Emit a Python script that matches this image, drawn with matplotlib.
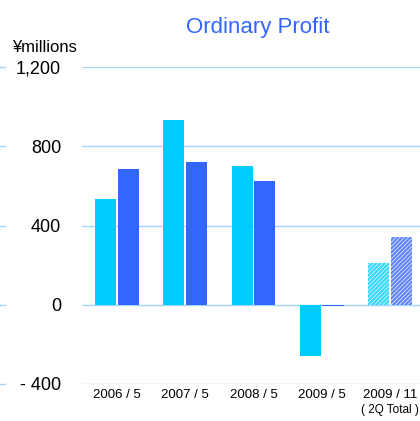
import matplotlib.pyplot as plt
from matplotlib.lines import Line2D

plt.rcParams['font.family'] = ['Liberation Sans', 'DejaVu Sans']
plt.rcParams['hatch.linewidth'] = 0.6

# data (¥ millions)
periods = ['2006 / 5', '2007 / 5', '2008 / 5', '2009 / 5', '2009 / 11']
sub_labels = ['', '', '', '', '( 2Q Total )']
series_a = [534, 933, 701, -257, 212]
series_b = [686, 721, 625, -5, 343]
forecast = [False, False, False, False, True]
yticks = [-400, 0, 400, 800, 1200]
ytick_labels = ['- 400', '0', '400', '800', '1,200']

cyan = '#00CCFF'
blue = '#3366FF'
grid_col = '#A8D4FA'

fig = plt.figure(figsize=(4.2, 4.21), dpi=100)
ax = fig.add_axes([82 / 420, 1 - 384 / 421, 1 - 82 / 420, (384 - 67) / 421])

w = 0.31
off = 0.165
for i in range(len(periods)):
    if forecast[i]:
        ax.bar(i - off, series_a[i], w, color=cyan, edgecolor='white', linewidth=0,
               hatch='////////', alpha=0.8, zorder=3)
        ax.bar(i + off, series_b[i], w, color=blue, edgecolor='white', linewidth=0,
               hatch='////////', alpha=0.8, zorder=3)
    else:
        ax.bar(i - off, series_a[i], w, color=cyan, zorder=3)
        ax.bar(i + off, series_b[i], w, color=blue, zorder=3)

ax.set_xlim(-0.51, 4.44)
ax.set_ylim(-400, 1200)

for y in yticks:
    ax.axhline(y, color=grid_col, lw=1, zorder=1)
    yf = ax.transData.transform((0, y))[1] / fig.bbox.height
    fig.add_artist(Line2D([0, 5 / 420], [yf, yf], color=grid_col, lw=1))

ax.set_yticks(yticks)
ax.set_yticklabels(ytick_labels, fontsize=13)
ax.tick_params(axis='y', length=0, pad=15)
ax.set_xticks([])
for s in ax.spines.values():
    s.set_visible(False)

for i, lab in enumerate(periods):
    ax.text(i, -455, lab, ha='center', va='center', fontsize=9.5)
    if sub_labels[i]:
        ax.text(i, -530, sub_labels[i], ha='center', va='center', fontsize=8.5)

fig.text(258 / 420, 1 - 27 / 421, 'Ordinary Profit', ha='center', va='center',
         fontsize=16, color=blue)
fig.text(12 / 420, 1 - 48 / 421, '¥millions', ha='left', va='center', fontsize=12)

fig.savefig('out.png', dpi=100)
